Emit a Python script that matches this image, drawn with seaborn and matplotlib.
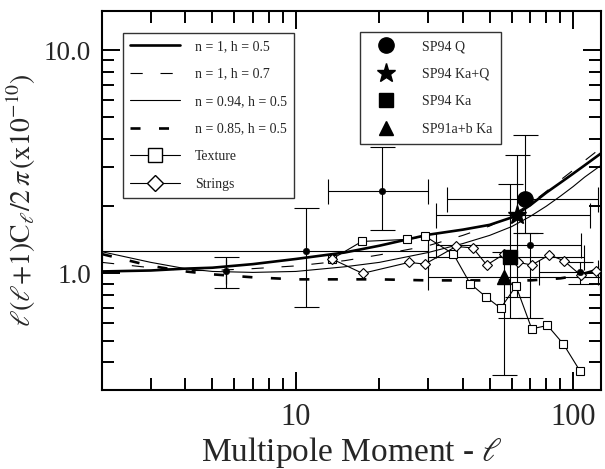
import matplotlib
matplotlib.use("Agg")
import matplotlib.pyplot as plt
from matplotlib.lines import Line2D
from matplotlib.ticker import FixedLocator, FixedFormatter, LogLocator, NullFormatter
import numpy as np
import pandas as pd
import seaborn as sns

# ---------------- data ----------------
ell_theory = [2, 3, 4, 5, 7, 10, 15, 20, 30, 40, 50, 60, 70, 80, 90, 100, 110, 126]
n1_h05 = [1.02, 1.03, 1.05, 1.06, 1.10, 1.16, 1.24, 1.33, 1.49, 1.57, 1.65, 1.78, 2.02, 2.30, 2.55, 2.80, 3.05, 3.45]
n1_h07 = [1.12, 1.06, 1.03, 1.03, 1.05, 1.08, 1.14, 1.21, 1.33, 1.48, 1.63, 1.82, 2.05, 2.33, 2.62, 2.90, 3.20, 3.65]
n094_h05 = [1.25, 1.12, 1.05, 1.02, 1.01, 1.02, 1.07, 1.12, 1.24, 1.36, 1.48, 1.62, 1.80, 2.00, 2.22, 2.45, 2.70, 3.05]
n085_h05 = [1.22, 1.08, 1.02, 0.99, 0.96, 0.94, 0.94, 0.94, 0.93, 0.93, 0.93, 0.93, 0.93, 0.94, 0.95, 0.97, 1.00, 1.05]

tex_ell = [13.5, 17.3, 25.2, 29.2, 37.0, 42.5, 48.5, 54.8, 62.2, 70.9, 80.8, 92.2, 106.0]
tex_val = [1.16, 1.39, 1.42, 1.47, 1.22, 0.90, 0.784, 0.698, 0.878, 0.564, 0.584, 0.482, 0.364]

str_ell = [13.5, 17.4, 25.6, 29.2, 37.8, 43.5, 48.8, 56.4, 63.5, 70.9, 82.1, 92.5, 106.6, 120.9]
str_val = [1.16, 1.00, 1.12, 1.10, 1.32, 1.30, 1.09, 1.22, 1.12, 1.09, 1.21, 1.14, 0.98, 1.02]

# small-dot experiments
pt_ell = [5.6, 10.9, 20.5, 70.0, 106.0]
pt_val = [1.02, 1.26, 2.33, 1.34, 1.01]
pt_lo = [0.857, 0.71, 1.56, 0.63, 0.90]
pt_hi = [1.19, 1.96, 3.68, 1.51, 1.12]
pt_xlo = [5.6, 2.0, 13.1, 32.0, 75.0]
pt_xhi = [5.6, 30.0, 30.0, 107.0, 123.0]

# SP94 / SP91 points
sp_names = ["SP94 Q", "SP94 Ka+Q", "SP94 Ka", "SP91a+b Ka"]
sp_ell = [67.0, 62.6, 59.3, 56.5]
sp_val = [2.16, 1.82, 1.19, 0.966]
sp_lo = [1.51, 0.78, 0.63, 0.351]
sp_hi = [4.17, 3.40, 2.52, 1.25]
sp_xlo = [35.0, 32.0, 30.0, 30.0]
sp_xhi = [123.0, 115.0, 109.0, 125.0]
sp_markers = ["o", "*", "s", "^"]
sp_sizes = [11, 14, 10.5, 10.5]

theory_labels = ["n = 1, h = 0.5", "n = 1, h = 0.7", "n = 0.94, h = 0.5", "n = 0.85, h = 0.5"]

# ---------------- style ----------------
sns.set_theme(style="ticks")
plt.rcParams["font.family"] = ["Liberation Serif", "DejaVu Serif"]
plt.rcParams["mathtext.fontset"] = "stix"

fig = plt.figure(figsize=(6.05, 4.69), dpi=100)
fig.patch.set_facecolor("white")
ax = fig.add_axes([102 / 605, 79 / 469, 499 / 605, 379 / 469])
ax.set_facecolor("white")
ax.set_xscale("log")
ax.set_yscale("log")

styles = [
    dict(lw=1.9, linestyle="-"),
    dict(lw=0.8, linestyle=(0, (11, 16))),
    dict(lw=0.8, linestyle="-"),
    dict(lw=1.9, linestyle=(0, (3.8, 7.0))),
]
theory = [n1_h05, n1_h07, n094_h05, n085_h05]
for vals, st in zip(theory, styles):
    df = pd.DataFrame({"ell": ell_theory, "val": vals})
    sns.lineplot(data=df, x="ell", y="val", ax=ax, color="black", sort=False, **st)

# error bars of data points
for i in range(len(pt_ell)):
    ax.errorbar([pt_ell[i]], [pt_val[i]],
                yerr=[[pt_val[i] - pt_lo[i]], [pt_hi[i] - pt_val[i]]],
                xerr=[[pt_ell[i] - pt_xlo[i]], [pt_xhi[i] - pt_ell[i]]],
                fmt="none", ecolor="black", elinewidth=0.8, capsize=9, capthick=0.8, zorder=2)
for i in range(len(sp_ell)):
    ax.errorbar([sp_ell[i]], [sp_val[i]],
                yerr=[[sp_val[i] - sp_lo[i]], [sp_hi[i] - sp_val[i]]],
                xerr=[[sp_ell[i] - sp_xlo[i]], [sp_xhi[i] - sp_ell[i]]],
                fmt="none", ecolor="black", elinewidth=0.8, capsize=9, capthick=0.8, zorder=2)

# texture & strings
sns.lineplot(x=tex_ell, y=tex_val, ax=ax, color="black", lw=0.8, marker="s", markersize=6,
             markerfacecolor="white", markeredgecolor="black", markeredgewidth=0.8, sort=False, zorder=3)
sns.lineplot(x=str_ell, y=str_val, ax=ax, color="black", lw=0.8, marker="D", markersize=5,
             markerfacecolor="white", markeredgecolor="black", markeredgewidth=0.8, sort=False, zorder=3)

# small dots
sns.scatterplot(x=pt_ell, y=pt_val, ax=ax, color="black", s=22, marker="o", edgecolor="black", zorder=4)
# big markers
for i in range(len(sp_ell)):
    ax.plot([sp_ell[i]], [sp_val[i]], marker=sp_markers[i], markersize=sp_sizes[i],
            color="black", linestyle="none", zorder=5)

ax.set_xlim(2, 126)
ax.set_ylim(0.3, 15)

ax.xaxis.set_major_locator(FixedLocator([10, 100]))
ax.xaxis.set_major_formatter(FixedFormatter(["10", "100"]))
ax.xaxis.set_minor_locator(LogLocator(base=10, subs=np.arange(2, 10) * 1.0, numticks=20))
ax.xaxis.set_minor_formatter(NullFormatter())
ax.yaxis.set_major_locator(FixedLocator([1, 10]))
ax.yaxis.set_major_formatter(FixedFormatter(["1.0", "10.0"]))
ax.yaxis.set_minor_locator(LogLocator(base=10, subs=np.arange(2, 10) * 1.0, numticks=20))
ax.yaxis.set_minor_formatter(NullFormatter())

ax.tick_params(which="both", direction="in", top=True, right=True, color="black", width=1.4)
ax.tick_params(which="major", length=13)
ax.tick_params(which="minor", length=8.5)
ax.tick_params(axis="x", which="major", labelsize=22, pad=9)
ax.tick_params(axis="y", which="major", labelsize=19.5, pad=8)
for sp in ax.spines.values():
    sp.set_linewidth(1.5)
    sp.set_color("black")

ax.set_xlabel(r"Multipole Moment - $\ell$", fontsize=24, va="top")
ax.xaxis.set_label_coords(0.5, -0.118)
ax.set_ylabel(r"$\ell(\ell\!+\!1)\mathrm{C}_\ell/2\,\pi\,\mathrm{(x10^{-10})}$", fontsize=20, labelpad=4)

# legends
h1 = [Line2D([], [], color="black", **st) for st in styles]
h1.append(Line2D([], [], color="black", lw=0.8, marker="s", markersize=10,
                 markerfacecolor="white", markeredgecolor="black"))
h1.append(Line2D([], [], color="black", lw=0.8, marker="D", markersize=8,
                 markerfacecolor="white", markeredgecolor="black"))
labels1 = theory_labels + ["Texture", "Strings"]
leg1 = ax.legend(h1, labels1, loc="upper left", bbox_to_anchor=(0.042, 0.942), borderaxespad=0,
                 frameon=True, fancybox=False, edgecolor="black", fontsize=10,
                 handlelength=3.6, labelspacing=1.05, borderpad=0.5, handletextpad=1.1)
leg1.get_frame().set_linewidth(1.0)
ax.add_artist(leg1)

h2 = [Line2D([], [], color="black", marker=m, markersize=s, linestyle="none")
      for m, s in zip(sp_markers, sp_sizes)]
leg2 = ax.legend(h2, sp_names, loc="upper left", bbox_to_anchor=(0.517, 0.945), borderaxespad=0,
                 frameon=True, fancybox=False, edgecolor="black", fontsize=10,
                 handlelength=2.6, labelspacing=1.05, borderpad=0.6, handletextpad=1.3)
leg2.get_frame().set_linewidth(1.0)

fig.savefig("out.png", dpi=100, facecolor="white")
